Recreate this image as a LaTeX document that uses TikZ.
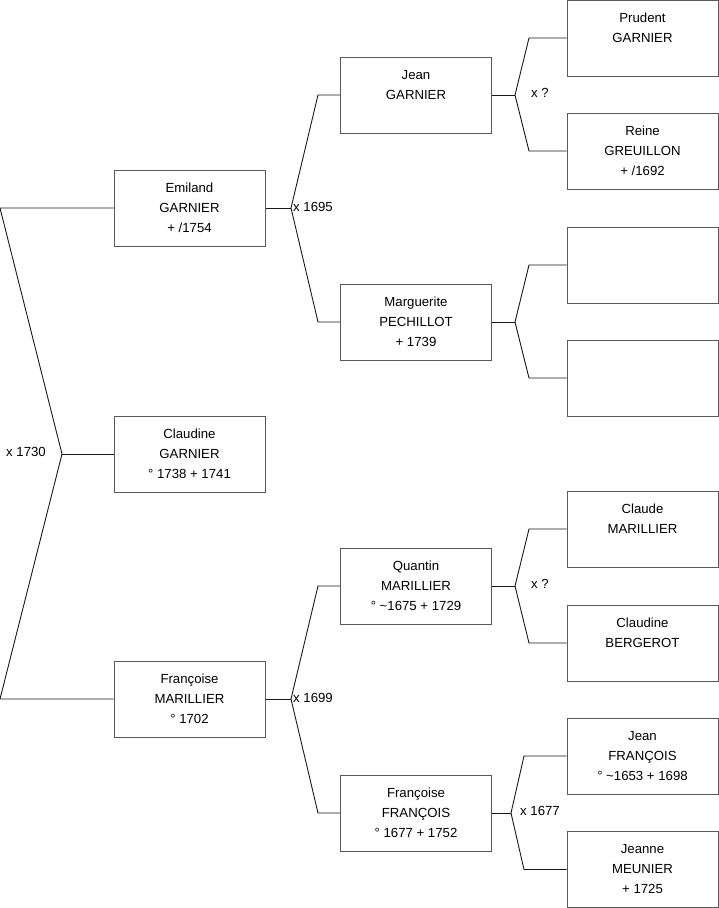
\documentclass[tikz,border=0pt]{standalone}
\usepackage{fontspec}
\setmainfont{Liberation Sans}
\begin{document}
\begin{tikzpicture}[x=1pt,y=-1pt,
  person/.style={draw=black!65, line width=1pt, minimum width=151pt, minimum height=76pt,
    inner sep=0pt, align=center, font=\fontsize{13.2}{20}\selectfont, text=black},
  link/.style={draw=black!90, line width=0.9pt},
  marr/.style={inner sep=0pt, font=\fontsize{13.2}{15}\selectfont}]
\useasboundingbox (0,0) rectangle (719,908);
% generation 1
\node[person] (emiland) at (189.5,208) {Emiland\\GARNIER\\+ /1754};
\node[person] (claudine) at (189.5,454) {Claudine\\GARNIER\\° 1738 + 1741};
\node[person] (francoise) at (189.5,699) {Françoise\\MARILLIER\\° 1702};
% generation 2
\node[person] (jean) at (416,95) {Jean\\GARNIER\\\mbox{}};
\node[person] (marguerite) at (416,322) {Marguerite\\PECHILLOT\\+ 1739};
\node[person] (quantin) at (416,586) {Quantin\\MARILLIER\\° \textasciitilde1675 + 1729};
\node[person] (ffrancois) at (416,813) {Françoise\\FRANÇOIS\\° 1677 + 1752};
% generation 3
\node[person] (prudent) at (642.5,38) {Prudent\\GARNIER\\\mbox{}};
\node[person] (reine) at (642.5,151) {Reine\\GREUILLON\\+ /1692};
\node[person] (emptya) at (642.5,265) {};
\node[person] (emptyb) at (642.5,378) {};
\node[person] (claude) at (642.5,529) {Claude\\MARILLIER\\\mbox{}};
\node[person] (bergerot) at (642.5,643) {Claudine\\BERGEROT\\\mbox{}};
\node[person] (jfrancois) at (642.5,756) {Jean\\FRANÇOIS\\° \textasciitilde1653 + 1698};
\node[person] (meunier) at (642.5,869.5) {Jeanne\\MEUNIER\\+ 1725};
% fork 0
\coordinate (v0) at (62,454);
\coordinate (v0a) at (0,208);
\coordinate (v0b) at (0,699);
\draw[link] (emiland.west) -- (v0a) -- (v0) -- (v0b) -- (francoise.west);
\draw[link] (v0) -- (claudine.west);
\node[marr, anchor=east] (m0) at (46,452) {x 1730};
% fork emiland
\coordinate (v1) at (291,208);
\coordinate (v1a) at (318,95);
\coordinate (v1b) at (318,322);
\draw[link] (emiland.east) -- (v1);
\draw[link] (jean.west) -- (v1a) -- (v1) -- (v1b) -- (marguerite.west);
\node[marr, anchor=west] (m1) at (293,207) {x 1695};
% fork francoise
\coordinate (v2) at (291,699);
\coordinate (v2a) at (318,586);
\coordinate (v2b) at (318,813);
\draw[link] (francoise.east) -- (v2);
\draw[link] (quantin.west) -- (v2a) -- (v2) -- (v2b) -- (ffrancois.west);
\node[marr, anchor=west] (m2) at (293,698) {x 1699};
% fork jean
\coordinate (v3) at (515,95);
\coordinate (v3a) at (529,38);
\coordinate (v3b) at (529,151);
\draw[link] (jean.east) -- (v3);
\draw[link] (prudent.west) -- (v3a) -- (v3) -- (v3b) -- (reine.west);
\node[marr, anchor=west] (m3) at (531,93) {x ?};
% fork marguerite
\coordinate (v4) at (515,322);
\coordinate (v4a) at (529,265);
\coordinate (v4b) at (529,378);
\draw[link] (marguerite.east) -- (v4);
\draw[link] (emptya.west) -- (v4a) -- (v4) -- (v4b) -- (emptyb.west);
% fork quantin
\coordinate (v5) at (515,586);
\coordinate (v5a) at (529,529);
\coordinate (v5b) at (529,643);
\draw[link] (quantin.east) -- (v5);
\draw[link] (claude.west) -- (v5a) -- (v5) -- (v5b) -- (bergerot.west);
\node[marr, anchor=west] (m5) at (531,584) {x ?};
% fork ffrancois
\coordinate (v6) at (511,813);
\coordinate (v6a) at (524,756);
\coordinate (v6b) at (524,869.5);
\draw[link] (ffrancois.east) -- (v6);
\draw[link] (jfrancois.west) -- (v6a) -- (v6) -- (v6b) -- (meunier.west);
\node[marr, anchor=west] (m6) at (520,811) {x 1677};
\end{tikzpicture}
\end{document}
